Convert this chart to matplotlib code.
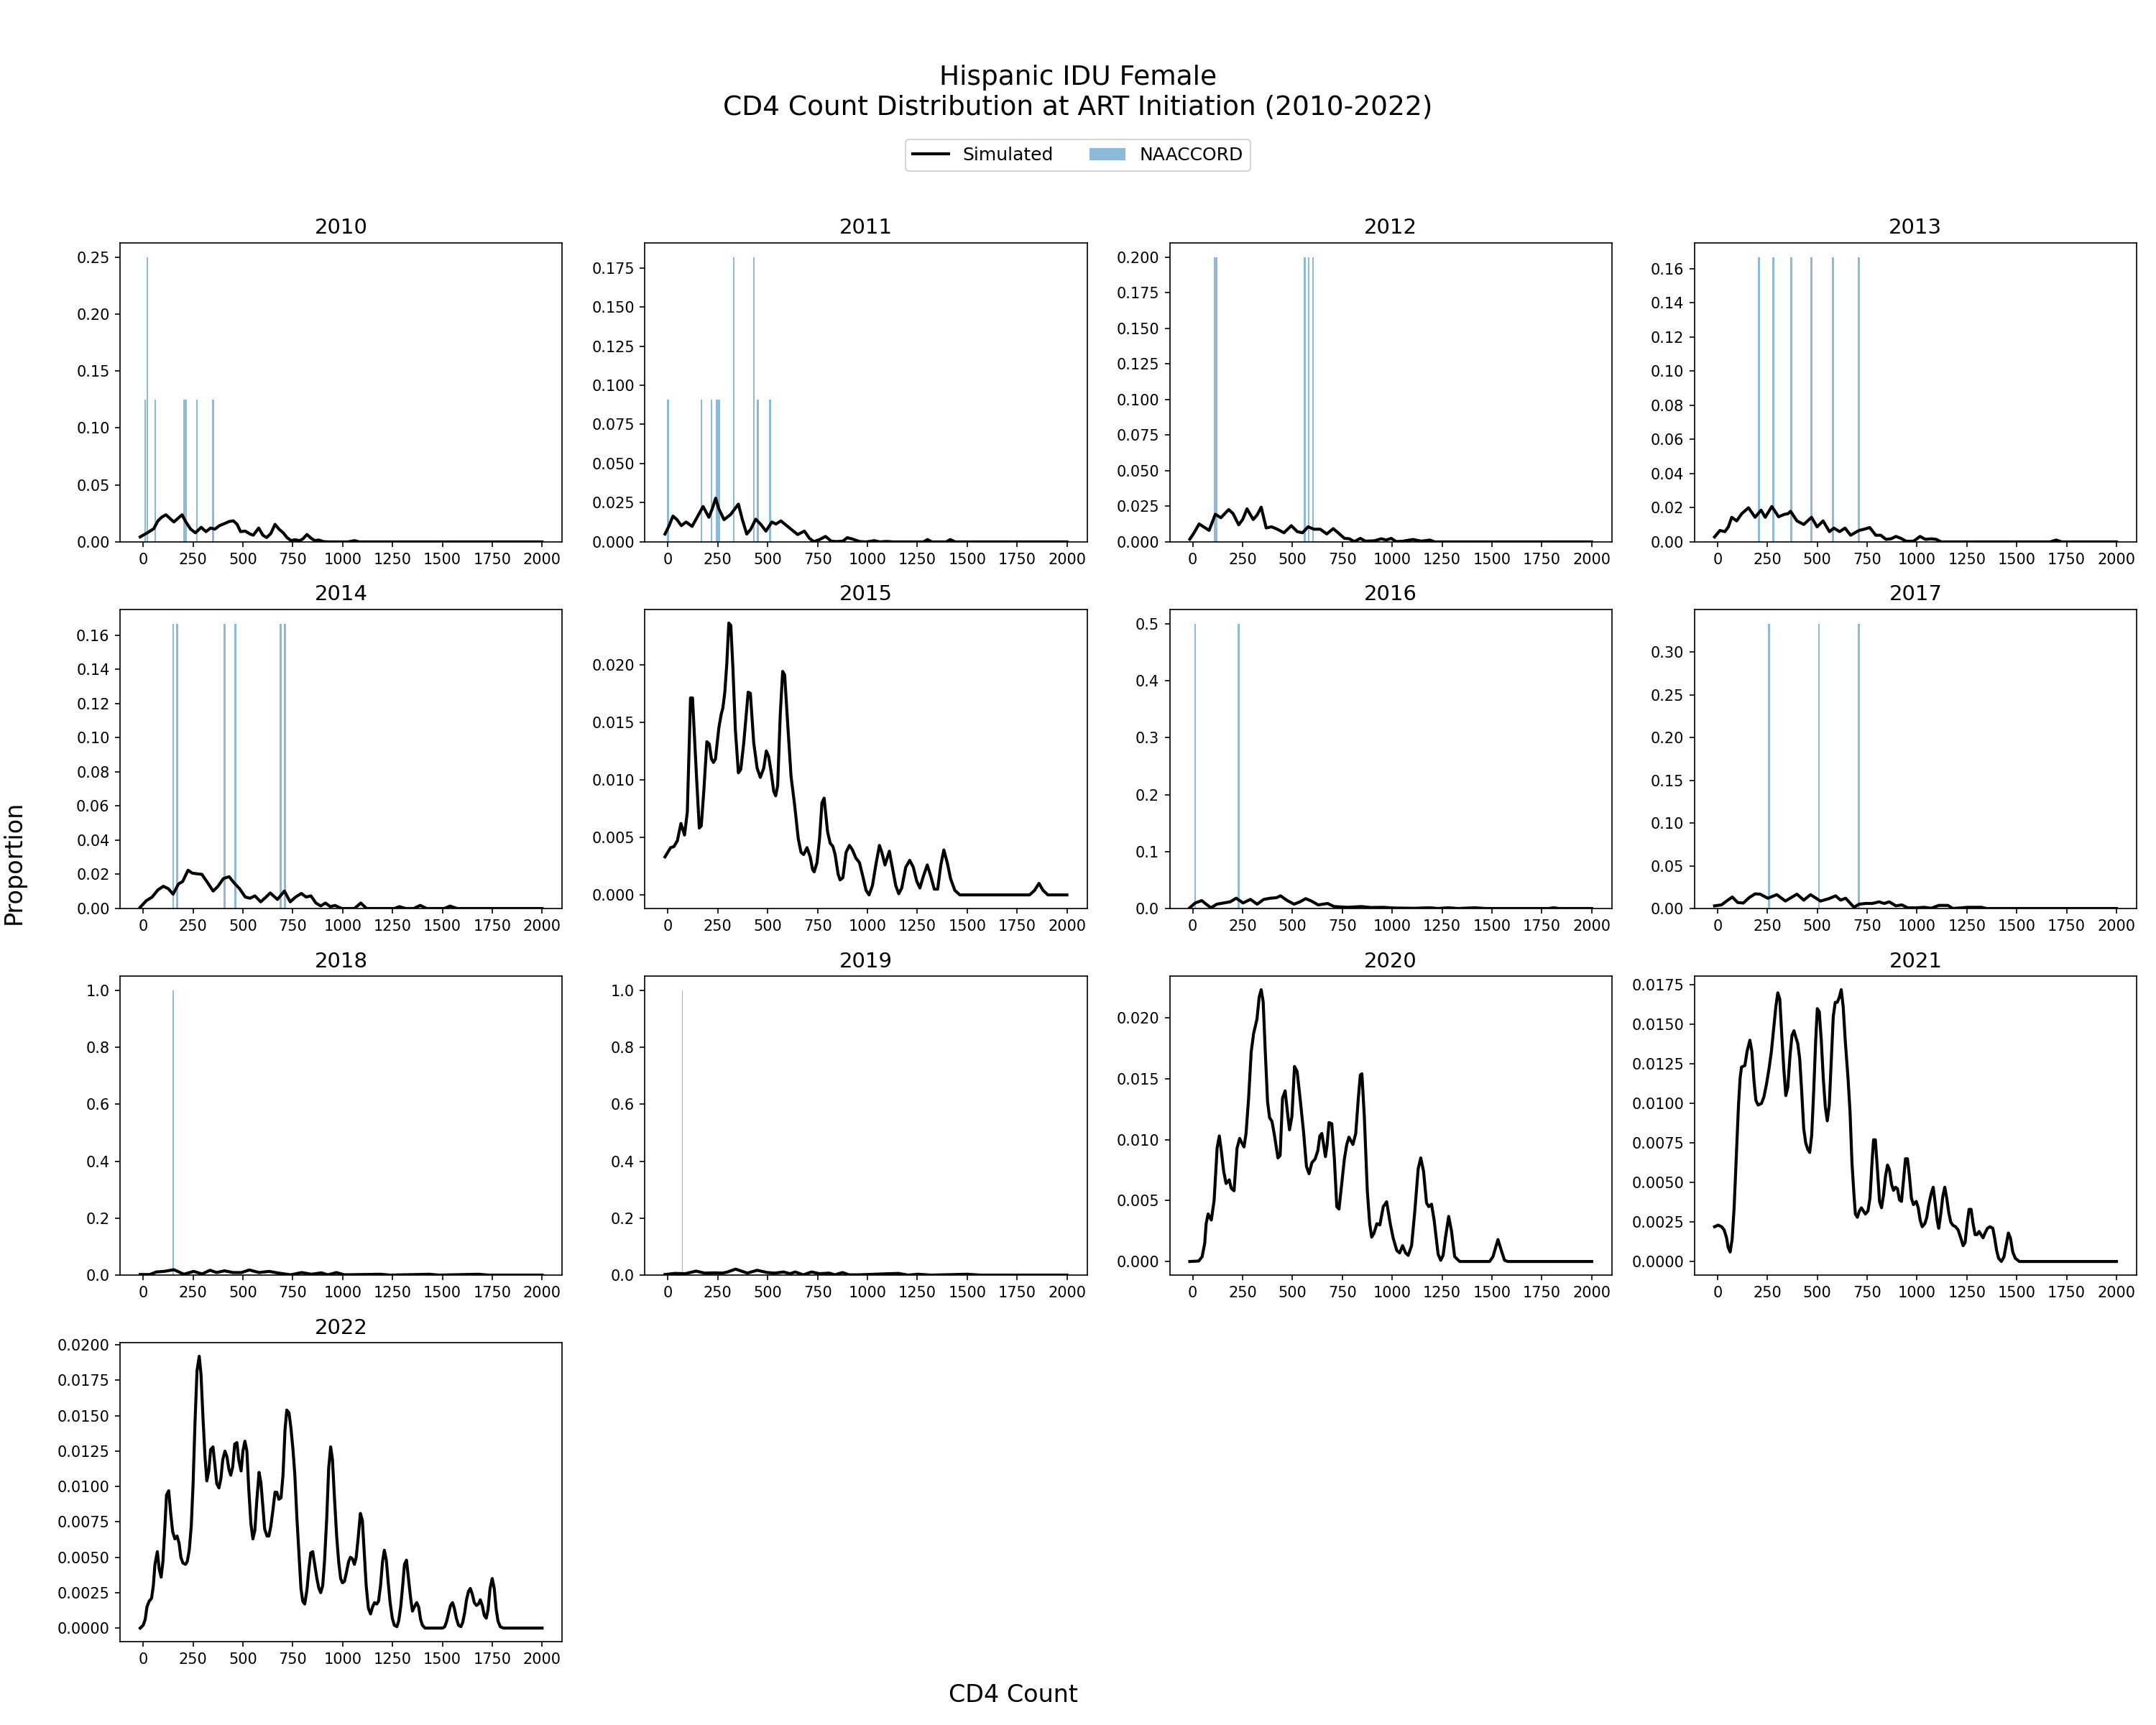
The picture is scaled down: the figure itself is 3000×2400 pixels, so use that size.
import matplotlib
matplotlib.use("Agg")
import matplotlib.pyplot as plt
from matplotlib.patches import Patch
from matplotlib.lines import Line2D

YEARS = [2010, 2011, 2012, 2013, 2014, 2015, 2016, 2017, 2018, 2019, 2020, 2021, 2022]

# ---------------- Simulated curves (CD4 count, proportion) ----------------
SIM_2010_X = [-15, 21, 53, 74, 93, 114, 134, 154, 174, 195, 214, 238, 262, 291, 315, 338, 359, 383, 412, 431, 452, 471, 488, 512, 536, 552, 579, 600, 619, 640, 661, 681, 702, 721, 742, 761, 785, 801, 821, 842, 861, 879, 906, 930, 1027, 1059, 1083, 2000]
SIM_2010_Y = [0.0044, 0.0080, 0.0116, 0.0185, 0.0217, 0.0238, 0.0206, 0.0175, 0.0206, 0.0238, 0.0175, 0.0112, 0.0080, 0.0128, 0.0090, 0.0122, 0.0112, 0.0143, 0.0164, 0.0179, 0.0185, 0.0154, 0.0090, 0.0095, 0.0069, 0.0059, 0.0122, 0.0059, 0.0038, 0.0074, 0.0154, 0.0112, 0.0080, 0.0038, 0.0011, 0.0019, 0.0011, 0.0027, 0.0065, 0.0032, 0.0011, 0.0017, 0.0002, 0.0, 0.0, 0.0011, 0.0, 0.0]

SIM_2011_X = [-15, 3, 25, 45, 67, 91, 121, 146, 176, 205, 222, 239, 255, 281, 314, 353, 373, 395, 415, 440, 466, 491, 521, 541, 566, 595, 625, 650, 684, 709, 731, 760, 790, 818, 844, 877, 899, 928, 961, 995, 1034, 1062, 1096, 1129, 1281, 1301, 1323, 1395, 1415, 1440, 2000]
SIM_2011_Y = [0.0050, 0.0096, 0.0165, 0.0142, 0.0104, 0.0127, 0.0099, 0.0157, 0.0226, 0.0157, 0.0211, 0.0279, 0.0211, 0.0142, 0.0175, 0.0241, 0.0142, 0.0050, 0.0081, 0.0145, 0.0111, 0.0069, 0.0127, 0.0114, 0.0134, 0.0104, 0.0073, 0.0047, 0.0069, 0.0023, 0.0002, 0.0015, 0.0035, 0.0005, 0.0002, 0.0005, 0.0027, 0.0017, 0.0002, 0.0, 0.0008, 0.0, 0.0003, 0.0, 0.0, 0.0015, 0.0, 0.0, 0.0015, 0.0, 0.0]

SIM_2012_X = [-15, 3, 32, 54, 82, 113, 141, 180, 202, 230, 250, 272, 303, 323, 343, 368, 395, 424, 457, 494, 524, 550, 578, 608, 639, 672, 704, 729, 760, 785, 810, 840, 866, 911, 945, 970, 995, 1020, 1054, 1104, 1146, 1188, 1213, 2000]
SIM_2012_Y = [0.0019, 0.0056, 0.0126, 0.0106, 0.0081, 0.0194, 0.0170, 0.0227, 0.0199, 0.0120, 0.0157, 0.0232, 0.0157, 0.0190, 0.0244, 0.0098, 0.0106, 0.0089, 0.0064, 0.0114, 0.0072, 0.0064, 0.0106, 0.0089, 0.0089, 0.0056, 0.0093, 0.0064, 0.0025, 0.0022, 0.0002, 0.0025, 0.0005, 0.0008, 0.0022, 0.0013, 0.0025, 0.0002, 0.0005, 0.0017, 0.0005, 0.0013, 0.0, 0.0]

SIM_2013_X = [-15, 12, 37, 54, 71, 96, 121, 155, 188, 218, 239, 272, 306, 334, 353, 366, 398, 432, 471, 499, 529, 561, 583, 612, 639, 667, 709, 734, 763, 793, 818, 844, 869, 894, 919, 945, 983, 1015, 1042, 1071, 1096, 1121, 1667, 1697, 1726, 2000]
SIM_2013_Y = [0.0029, 0.0067, 0.0060, 0.0088, 0.0144, 0.0123, 0.0165, 0.0200, 0.0144, 0.0186, 0.0144, 0.0207, 0.0147, 0.0161, 0.0165, 0.0179, 0.0123, 0.0102, 0.0144, 0.0088, 0.0123, 0.0060, 0.0081, 0.0060, 0.0081, 0.0039, 0.0067, 0.0074, 0.0084, 0.0039, 0.0039, 0.0015, 0.0018, 0.0032, 0.0021, 0.0004, 0.0004, 0.0032, 0.0015, 0.0018, 0.0015, 0.0, 0.0, 0.0011, 0.0, 0.0]

SIM_2014_X = [-15, 16, 45, 74, 101, 126, 150, 177, 198, 225, 246, 270, 294, 319, 351, 375, 402, 431, 455, 483, 512, 536, 560, 589, 616, 637, 673, 708, 737, 764, 793, 817, 841, 866, 890, 914, 938, 962, 994, 1059, 1091, 1120, 1260, 1284, 1316, 1356, 1389, 1421, 1509, 1538, 1574, 2000]
SIM_2014_Y = [0.0007, 0.0046, 0.0067, 0.0109, 0.0130, 0.0116, 0.0084, 0.0144, 0.0158, 0.0224, 0.0207, 0.0203, 0.0200, 0.0158, 0.0102, 0.0130, 0.0175, 0.0186, 0.0151, 0.0116, 0.0067, 0.0060, 0.0074, 0.0039, 0.0067, 0.0091, 0.0053, 0.0102, 0.0039, 0.0067, 0.0088, 0.0067, 0.0074, 0.0032, 0.0015, 0.0032, 0.0011, 0.0018, 0.0, 0.0, 0.0032, 0.0, 0.0, 0.0011, 0.0, 0.0, 0.0018, 0.0, 0.0, 0.0014, 0.0, 0.0]

SIM_2015_X = [-15, 13, 30, 47, 65, 83, 97, 113, 123, 143, 157, 167, 180, 195, 207, 218, 228, 238, 255, 267, 275, 285, 295, 305, 315, 325, 338, 353, 365, 380, 402, 413, 430, 447, 463, 480, 493, 505, 517, 530, 540, 550, 563, 575, 585, 600, 617, 635, 653, 667, 680, 697, 713, 725, 733, 747, 760, 772, 783, 800, 813, 827, 838, 853, 863, 877, 893, 910, 925, 942, 960, 977, 993, 1008, 1025, 1042, 1060, 1072, 1088, 1110, 1127, 1142, 1157, 1172, 1192, 1212, 1230, 1247, 1263, 1280, 1300, 1318, 1335, 1352, 1368, 1383, 1400, 1417, 1438, 1463, 1813, 1838, 1860, 1880, 1905, 2000]
SIM_2015_Y = [0.0033, 0.0041, 0.0042, 0.0047, 0.0062, 0.0052, 0.0072, 0.0171, 0.0171, 0.0103, 0.0058, 0.0060, 0.0091, 0.0133, 0.0131, 0.0118, 0.0115, 0.0118, 0.0145, 0.0157, 0.0162, 0.0176, 0.0201, 0.0236, 0.0234, 0.0199, 0.0143, 0.0106, 0.0109, 0.0132, 0.0176, 0.0175, 0.0132, 0.0110, 0.0102, 0.0110, 0.0125, 0.0120, 0.0107, 0.0090, 0.0086, 0.0095, 0.0157, 0.0194, 0.0191, 0.0149, 0.0103, 0.0078, 0.0049, 0.0037, 0.0035, 0.0041, 0.0033, 0.0022, 0.0020, 0.0028, 0.0049, 0.0080, 0.0084, 0.0055, 0.0045, 0.0042, 0.0035, 0.0018, 0.0013, 0.0015, 0.0037, 0.0043, 0.0039, 0.0032, 0.0028, 0.0016, 0.0004, 0.0000, 0.0008, 0.0026, 0.0043, 0.0037, 0.0026, 0.0038, 0.0022, 0.0008, 0.0001, 0.0006, 0.0024, 0.0030, 0.0024, 0.0012, 0.0006, 0.0016, 0.0026, 0.0016, 0.0005, 0.0005, 0.0026, 0.0039, 0.0028, 0.0014, 0.0004, 0.0, 0.0, 0.0004, 0.0010, 0.0004, 0.0, 0.0]

SIM_2016_X = [-15, 12, 45, 67, 91, 121, 155, 188, 218, 252, 289, 323, 356, 390, 420, 440, 474, 508, 538, 566, 595, 629, 676, 709, 776, 844, 894, 953, 1012, 1113, 1188, 1230, 1281, 1331, 1415, 1466, 1785, 1810, 1835, 2000]
SIM_2016_Y = [0.0013, 0.0097, 0.0139, 0.0076, 0.0013, 0.0076, 0.0097, 0.0118, 0.0181, 0.0097, 0.0160, 0.0076, 0.0160, 0.0181, 0.0189, 0.0223, 0.0139, 0.0076, 0.0118, 0.0173, 0.0130, 0.0063, 0.0088, 0.0034, 0.0021, 0.0034, 0.0017, 0.0021, 0.0008, 0.0004, 0.0013, 0.0, 0.0013, 0.0, 0.0013, 0.0, 0.0, 0.0013, 0.0, 0.0]

SIM_2017_X = [-15, 20, 45, 74, 101, 129, 158, 188, 213, 252, 297, 340, 398, 432, 466, 516, 558, 592, 617, 642, 684, 709, 743, 776, 810, 835, 861, 894, 924, 953, 995, 1037, 1071, 1109, 1155, 1180, 1255, 1289, 1323, 1348, 2000]
SIM_2017_Y = [0.0031, 0.0042, 0.0087, 0.0134, 0.0070, 0.0064, 0.0126, 0.0171, 0.0168, 0.0120, 0.0162, 0.0087, 0.0168, 0.0098, 0.0162, 0.0087, 0.0115, 0.0148, 0.0098, 0.0120, 0.0014, 0.0050, 0.0059, 0.0059, 0.0078, 0.0059, 0.0078, 0.0031, 0.0042, 0.0008, 0.0008, 0.0014, 0.0003, 0.0036, 0.0036, 0.0, 0.0014, 0.0014, 0.0014, 0.0, 0.0]

SIM_2018_X = [-15, 33, 66, 105, 154, 204, 253, 296, 335, 368, 407, 450, 493, 532, 581, 631, 680, 739, 795, 844, 893, 926, 969, 1008, 1189, 1238, 1435, 1484, 1681, 1731, 2000]
SIM_2018_Y = [0.002, 0.002, 0.011, 0.013, 0.019, 0.003, 0.013, 0.004, 0.017, 0.009, 0.015, 0.009, 0.009, 0.018, 0.009, 0.013, 0.007, 0.001, 0.009, 0.003, 0.008, 0.001, 0.009, 0.001, 0.003, 0.0, 0.003, 0.0, 0.003, 0.0, 0.0]

SIM_2019_X = [-15, 36, 86, 141, 184, 234, 273, 299, 339, 398, 447, 497, 536, 579, 612, 638, 678, 720, 760, 809, 836, 875, 908, 957, 1072, 1155, 1204, 1253, 1319, 1500, 1566, 2000]
SIM_2019_Y = [0.002, 0.006, 0.005, 0.014, 0.007, 0.008, 0.007, 0.011, 0.021, 0.007, 0.017, 0.009, 0.007, 0.011, 0.005, 0.011, 0.001, 0.011, 0.005, 0.007, 0.001, 0.009, 0.001, 0.001, 0.004, 0.006, 0.0, 0.003, 0.0, 0.003, 0.0, 0.0]

SIM_2020_X = [-15, 30, 47, 60, 67, 77, 93, 107, 122, 133, 143, 155, 167, 183, 193, 207, 222, 235, 247, 257, 267, 280, 293, 305, 322, 333, 343, 353, 363, 375, 385, 397, 408, 427, 438, 450, 463, 477, 485, 497, 510, 523, 538, 555, 570, 583, 597, 613, 627, 637, 647, 657, 665, 673, 683, 697, 710, 722, 733, 747, 760, 772, 783, 793, 803, 817, 830, 840, 848, 860, 875, 887, 897, 908, 923, 938, 955, 972, 990, 1005, 1023, 1037, 1052, 1067, 1080, 1097, 1113, 1130, 1143, 1157, 1172, 1183, 1197, 1210, 1230, 1243, 1255, 1268, 1283, 1297, 1313, 1338, 1488, 1505, 1530, 1547, 1563, 1580, 2000]
SIM_2020_Y = [0.0, 0.00004, 0.0004, 0.0015, 0.0031, 0.0039, 0.0034, 0.0050, 0.0093, 0.0103, 0.0091, 0.0074, 0.0064, 0.0067, 0.0060, 0.0058, 0.0093, 0.0101, 0.0097, 0.0094, 0.0105, 0.0134, 0.0172, 0.0187, 0.0199, 0.0217, 0.0223, 0.0213, 0.0174, 0.0131, 0.0118, 0.0115, 0.0105, 0.0085, 0.0087, 0.0134, 0.0140, 0.0119, 0.0108, 0.0119, 0.0160, 0.0156, 0.0134, 0.0107, 0.0078, 0.0072, 0.0081, 0.0084, 0.0091, 0.0103, 0.0105, 0.0095, 0.0086, 0.0095, 0.0114, 0.0113, 0.0084, 0.0045, 0.0043, 0.0064, 0.0084, 0.0096, 0.0102, 0.0099, 0.0096, 0.0105, 0.0134, 0.0153, 0.0154, 0.0119, 0.0058, 0.0031, 0.0020, 0.0023, 0.0031, 0.0030, 0.0045, 0.0049, 0.0031, 0.0019, 0.0009, 0.0007, 0.0013, 0.0007, 0.0005, 0.0013, 0.0041, 0.0076, 0.0085, 0.0074, 0.0048, 0.0045, 0.0047, 0.0034, 0.0006, 0.0001, 0.0005, 0.0021, 0.0037, 0.0025, 0.0004, 0.0, 0.0, 0.0004, 0.0018, 0.0009, 0.0001, 0.0, 0.0]

SIM_2021_X = [-15, 3, 20, 33, 45, 53, 63, 73, 83, 95, 105, 113, 120, 137, 148, 162, 172, 182, 192, 203, 220, 232, 245, 258, 270, 282, 292, 302, 312, 322, 332, 342, 352, 363, 373, 383, 392, 402, 412, 422, 432, 442, 452, 462, 472, 482, 492, 500, 510, 520, 530, 540, 550, 560, 570, 580, 590, 600, 610, 620, 630, 640, 654, 664, 674, 684, 691, 701, 711, 721, 731, 741, 754, 764, 774, 782, 791, 801, 812, 822, 832, 842, 852, 862, 872, 882, 892, 902, 912, 922, 932, 942, 952, 962, 972, 982, 996, 1006, 1016, 1026, 1039, 1049, 1059, 1071, 1081, 1091, 1101, 1109, 1119, 1129, 1139, 1149, 1159, 1169, 1179, 1193, 1206, 1219, 1231, 1241, 1251, 1261, 1271, 1281, 1291, 1301, 1311, 1321, 1331, 1341, 1353, 1366, 1380, 1389, 1399, 1409, 1423, 1436, 1446, 1458, 1468, 1480, 1493, 1513, 2000]
SIM_2021_Y = [0.0022, 0.0023, 0.0022, 0.0020, 0.0015, 0.0009, 0.0006, 0.0014, 0.0034, 0.0069, 0.0099, 0.0116, 0.0123, 0.0124, 0.0133, 0.0140, 0.0133, 0.0115, 0.0102, 0.0099, 0.0100, 0.0104, 0.0112, 0.0122, 0.0133, 0.0148, 0.0161, 0.0170, 0.0166, 0.0143, 0.0122, 0.0105, 0.0110, 0.0130, 0.0143, 0.0146, 0.0142, 0.0138, 0.0128, 0.0107, 0.0084, 0.0075, 0.0071, 0.0069, 0.0080, 0.0108, 0.0140, 0.0160, 0.0158, 0.0140, 0.0116, 0.0098, 0.0089, 0.0099, 0.0127, 0.0155, 0.0164, 0.0164, 0.0167, 0.0172, 0.0161, 0.0140, 0.0116, 0.0095, 0.0062, 0.0042, 0.0030, 0.0028, 0.0032, 0.0034, 0.0032, 0.0030, 0.0032, 0.0040, 0.0062, 0.0077, 0.0077, 0.0059, 0.0038, 0.0034, 0.0042, 0.0054, 0.0061, 0.0058, 0.0049, 0.0045, 0.0047, 0.0046, 0.0039, 0.0038, 0.0051, 0.0065, 0.0065, 0.0054, 0.0040, 0.0036, 0.0038, 0.0034, 0.0026, 0.0022, 0.0024, 0.0028, 0.0036, 0.0043, 0.0047, 0.0037, 0.0026, 0.0021, 0.0030, 0.0041, 0.0047, 0.0040, 0.0031, 0.0025, 0.0023, 0.0022, 0.0020, 0.0015, 0.0010, 0.0012, 0.0024, 0.0033, 0.0033, 0.0024, 0.0017, 0.0017, 0.0019, 0.0017, 0.0015, 0.0018, 0.0021, 0.0022, 0.0021, 0.0015, 0.0007, 0.0002, 0.0000, 0.0003, 0.0010, 0.0018, 0.0015, 0.0006, 0.0002, 0.0, 0.0]

SIM_2022_X = [-15, 0, 10, 19, 30, 42, 51, 59, 71, 80, 90, 99, 109, 117, 128, 138, 148, 159, 170, 180, 189, 199, 212, 221, 231, 241, 250, 260, 270, 281, 290, 300, 310, 319, 329, 338, 350, 359, 369, 380, 390, 399, 410, 420, 430, 439, 449, 459, 470, 479, 491, 500, 510, 520, 529, 540, 550, 560, 569, 581, 590, 600, 609, 621, 630, 640, 651, 661, 670, 680, 691, 701, 711, 720, 731, 741, 751, 760, 771, 781, 791, 800, 810, 821, 831, 840, 850, 860, 871, 881, 890, 900, 909, 920, 930, 940, 949, 959, 970, 980, 990, 999, 1009, 1020, 1030, 1039, 1049, 1059, 1068, 1078, 1089, 1099, 1108, 1118, 1129, 1140, 1150, 1160, 1171, 1180, 1190, 1200, 1209, 1219, 1228, 1238, 1249, 1259, 1272, 1281, 1291, 1301, 1310, 1320, 1330, 1341, 1350, 1360, 1371, 1381, 1391, 1400, 1413, 1501, 1512, 1522, 1532, 1541, 1551, 1560, 1570, 1581, 1593, 1602, 1612, 1621, 1631, 1640, 1650, 1660, 1671, 1681, 1690, 1700, 1710, 1720, 1729, 1739, 1750, 1760, 1770, 1779, 1790, 1806, 2000]
SIM_2022_Y = [0.0000, 0.0002, 0.0006, 0.0015, 0.0019, 0.0021, 0.0030, 0.0045, 0.0054, 0.0042, 0.0036, 0.0047, 0.0072, 0.0094, 0.0097, 0.0081, 0.0068, 0.0063, 0.0065, 0.0060, 0.0050, 0.0046, 0.0045, 0.0047, 0.0055, 0.0072, 0.0101, 0.0146, 0.0182, 0.0192, 0.0179, 0.0148, 0.0121, 0.0104, 0.0111, 0.0126, 0.0128, 0.0116, 0.0102, 0.0099, 0.0106, 0.0119, 0.0125, 0.0121, 0.0112, 0.0108, 0.0114, 0.0130, 0.0131, 0.0119, 0.0111, 0.0125, 0.0132, 0.0125, 0.0099, 0.0074, 0.0063, 0.0069, 0.0089, 0.0110, 0.0103, 0.0086, 0.0070, 0.0065, 0.0065, 0.0072, 0.0084, 0.0096, 0.0096, 0.0091, 0.0092, 0.0108, 0.0140, 0.0154, 0.0152, 0.0141, 0.0126, 0.0109, 0.0077, 0.0052, 0.0028, 0.0019, 0.0017, 0.0027, 0.0042, 0.0053, 0.0054, 0.0045, 0.0035, 0.0028, 0.0025, 0.0030, 0.0047, 0.0077, 0.0113, 0.0128, 0.0119, 0.0092, 0.0065, 0.0047, 0.0035, 0.0032, 0.0033, 0.0040, 0.0047, 0.0050, 0.0049, 0.0045, 0.0050, 0.0064, 0.0081, 0.0076, 0.0054, 0.0030, 0.0014, 0.0010, 0.0015, 0.0018, 0.0017, 0.0019, 0.0030, 0.0047, 0.0055, 0.0048, 0.0033, 0.0018, 0.0007, 0.0002, 0.0001, 0.0005, 0.0015, 0.0030, 0.0045, 0.0048, 0.0035, 0.0021, 0.0012, 0.0015, 0.0018, 0.0015, 0.0006, 0.0002, 0.0, 0.0, 0.0001, 0.0005, 0.0011, 0.0016, 0.0018, 0.0014, 0.0007, 0.0002, 0.0001, 0.0004, 0.0011, 0.0020, 0.0026, 0.0028, 0.0024, 0.0018, 0.0016, 0.0017, 0.0020, 0.0016, 0.0009, 0.0007, 0.0013, 0.0028, 0.0035, 0.0028, 0.0013, 0.0005, 0.0001, 0.0, 0.0]

# ---------------- NAACCORD histogram bars (bin centre, proportion) ----------------
NAA_2010_X = [10, 21, 60, 206, 216, 270, 351]
NAA_2010_H = [0.125, 0.25, 0.125, 0.125, 0.125, 0.125, 0.125]
NAA_2011_X = [0, 168, 218, 245, 256, 329, 430, 450, 511]
NAA_2011_H = [0.0909, 0.0909, 0.0909, 0.0909, 0.0909, 0.1818, 0.1818, 0.0909, 0.0909]
NAA_2012_X = [110, 119, 561, 582, 602]
NAA_2012_H = [0.2, 0.2, 0.2, 0.2, 0.2]
NAA_2013_X = [208, 279, 370, 470, 578, 709]
NAA_2013_H = [0.1667, 0.1667, 0.1667, 0.1667, 0.1667, 0.1667]
NAA_2014_X = [151, 171, 409, 462, 689, 711]
NAA_2014_H = [0.1667, 0.1667, 0.1667, 0.1667, 0.1667, 0.1667]
NAA_2016_X = [12, 230]
NAA_2016_H = [0.5, 0.5]
NAA_2017_X = [257, 509, 709]
NAA_2017_H = [0.3333, 0.3333, 0.3333]
NAA_2018_X = [151]
NAA_2018_H = [1.0]
NAA_2019_X = [72]
NAA_2019_H = [1.0]

SIM = {
    2010: (SIM_2010_X, SIM_2010_Y), 2011: (SIM_2011_X, SIM_2011_Y),
    2012: (SIM_2012_X, SIM_2012_Y), 2013: (SIM_2013_X, SIM_2013_Y),
    2014: (SIM_2014_X, SIM_2014_Y), 2015: (SIM_2015_X, SIM_2015_Y),
    2016: (SIM_2016_X, SIM_2016_Y), 2017: (SIM_2017_X, SIM_2017_Y),
    2018: (SIM_2018_X, SIM_2018_Y), 2019: (SIM_2019_X, SIM_2019_Y),
    2020: (SIM_2020_X, SIM_2020_Y), 2021: (SIM_2021_X, SIM_2021_Y),
    2022: (SIM_2022_X, SIM_2022_Y),
}
NAA = {
    2010: (NAA_2010_X, NAA_2010_H), 2011: (NAA_2011_X, NAA_2011_H),
    2012: (NAA_2012_X, NAA_2012_H), 2013: (NAA_2013_X, NAA_2013_H),
    2014: (NAA_2014_X, NAA_2014_H), 2016: (NAA_2016_X, NAA_2016_H),
    2017: (NAA_2017_X, NAA_2017_H), 2018: (NAA_2018_X, NAA_2018_H),
    2019: (NAA_2019_X, NAA_2019_H),
}
BAR_WIDTH = {2010: 9, 2011: 9, 2012: 9, 2013: 9, 2014: 9, 2016: 9, 2017: 9, 2018: 6, 2019: 6}

BAR_COLOR = "#1f77b4"

fig, axes = plt.subplots(4, 4, figsize=(20, 16), dpi=150)
fig.subplots_adjust(left=0.0557, right=0.991, bottom=0.0483, top=0.8592,
                    wspace=0.187, hspace=0.226)
flat = axes.flatten()
for i, year in enumerate(YEARS):
    ax = flat[i]
    if year in NAA:
        bx, bh = NAA[year]
        ax.bar(bx, bh, width=BAR_WIDTH[year], color=BAR_COLOR, alpha=0.5, linewidth=0)
    sx, sy = SIM[year]
    ax.plot(sx, sy, color="black", linewidth=2)
    ax.set_title(str(year), fontsize=14)
    ax.tick_params(labelsize=10)
for j in range(len(YEARS), 16):
    flat[j].remove()

fig.text(0.5, 0.9625, "Hispanic IDU Female\nCD4 Count Distribution at ART Initiation (2010-2022)",
         ha="center", va="top", fontsize=18)
handles = [Line2D([0], [0], color="black", linewidth=2),
           Patch(facecolor=BAR_COLOR, alpha=0.5)]
fig.legend(handles, ["Simulated", "NAACCORD"], loc="center", ncol=2,
           bbox_to_anchor=(0.5, 0.910), fontsize=12)
fig.text(0.47, 0.0175, "CD4 Count", ha="center", va="center", fontsize=16)
fig.text(0.0063, 0.5, "Proportion", ha="center", va="center", rotation=90, fontsize=16)

fig.savefig("out.png", dpi=150)
